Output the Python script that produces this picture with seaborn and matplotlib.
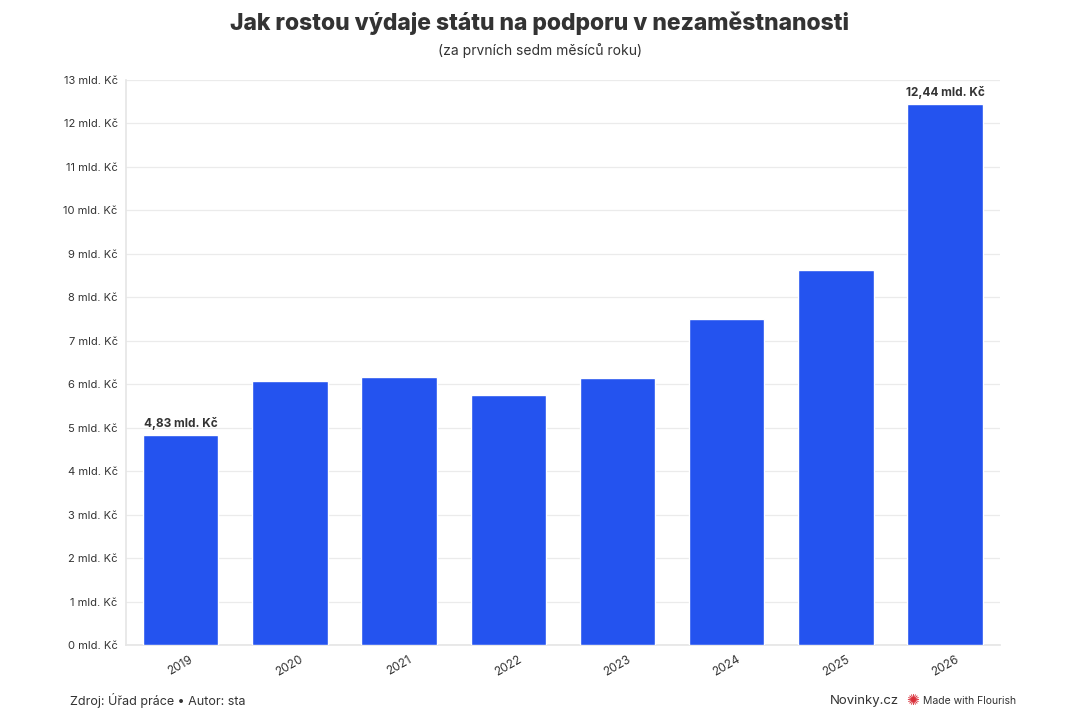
import numpy as np
import pandas as pd
import matplotlib
matplotlib.use("Agg")
import matplotlib.pyplot as plt
import seaborn as sns

years = ["2019", "2020", "2021", "2022", "2023", "2024", "2025", "2026"]
spending = [4.83, 6.08, 6.17, 5.76, 6.15, 7.51, 8.63, 12.44]
labelled_years = {"2019": "4,83 mld. Kč", "2026": "12,44 mld. Kč"}
yticks = list(range(0, 14))

df = pd.DataFrame({"rok": years, "vydaje": spending})

sns.set_theme(style="white")
plt.rcParams["font.family"] = ["Inter", "DejaVu Sans"]

fig = plt.figure(figsize=(10.8, 7.2), dpi=100)
ax = fig.add_axes([0.1167, 0.104, 0.809, 0.785])

sns.barplot(data=df, x="rok", y="vydaje", color="#2453EF", width=0.69,
            saturation=1, ax=ax, zorder=3)

ax.set_ylim(0, 13)
ax.set_xlim(-0.5, len(years) - 0.5)
ax.set_yticks(yticks)
ax.set_yticklabels([f"{t} mld. Kč" for t in yticks], fontsize=8, color="#333333")
ax.yaxis.grid(True, color="#ebebeb", linewidth=0.9, zorder=0)
ax.tick_params(axis="y", length=0, pad=6)
ax.tick_params(axis="x", length=0, pad=6, labelsize=8.5, labelcolor="#333333")
for lbl in ax.get_xticklabels():
    lbl.set_rotation(30)
ax.set_xlabel("")
ax.set_ylabel("")
for side in ["top", "right"]:
    ax.spines[side].set_visible(False)
ax.spines["left"].set_color("#e6e6e6")
ax.spines["bottom"].set_color("#e6e6e6")

for i, (yr, v) in enumerate(zip(years, spending)):
    if yr in labelled_years:
        ax.text(i, v + 0.12, labelled_years[yr], ha="center", va="bottom",
                fontsize=8.5, fontweight="bold", color="#333333")

fig.text(0.5, 0.968, "Jak rostou výdaje státu na podporu v nezaměstnanosti",
         ha="center", va="center", fontsize=16.5, fontweight="heavy", color="#333333")
fig.text(0.5, 0.93, "(za prvních sedm měsíců roku)", ha="center", va="center",
         fontsize=10, color="#333333")

fig.text(0.065, 0.027, "Zdroj: Úřad práce • Autor: sta", ha="left", va="center",
         fontsize=9, color="#333333")
fig.text(0.832, 0.027, "Novinky.cz", ha="right", va="center", fontsize=9.5,
         color="#333333")
fig.text(0.8445, 0.027, "✺", ha="center", va="center", fontsize=11, color="#d9303a",
         family=["DejaVu Sans"])
fig.text(0.855, 0.027, "Made with Flourish", ha="left", va="center", fontsize=7.5,
         color="#333333")

fig.savefig("out.png", dpi=100, facecolor="white")
